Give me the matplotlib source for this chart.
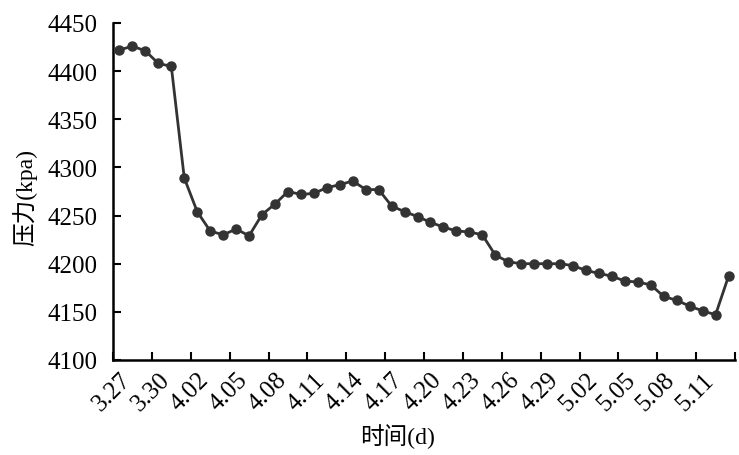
import matplotlib
matplotlib.use("Agg")
import matplotlib.pyplot as plt
from matplotlib.ticker import FixedLocator, FixedFormatter

dates = ["3.27", "3.28", "3.29", "3.30", "3.31", "4.01", "4.02", "4.03", "4.04", "4.05",
         "4.06", "4.07", "4.08", "4.09", "4.10", "4.11", "4.12", "4.13", "4.14", "4.15",
         "4.16", "4.17", "4.18", "4.19", "4.20", "4.21", "4.22", "4.23", "4.24", "4.25",
         "4.26", "4.27", "4.28", "4.29", "4.30", "5.01", "5.02", "5.03", "5.04", "5.05",
         "5.06", "5.07", "5.08", "5.09", "5.10", "5.11", "5.12", "5.13"]
pressure = [4422, 4426, 4421, 4408, 4405, 4289, 4254, 4234, 4230, 4236,
            4229, 4251, 4262, 4275, 4272, 4273, 4279, 4282, 4286, 4277,
            4277, 4260, 4254, 4249, 4243, 4238, 4234, 4233, 4230, 4209,
            4202, 4200, 4200, 4200, 4200, 4198, 4193, 4190, 4187, 4182,
            4181, 4178, 4166, 4162, 4156, 4151, 4147, 4187]
y_ticks = [4100, 4150, 4200, 4250, 4300, 4350, 4400, 4450]

FAM = ["Liberation Serif", "Noto Sans CJK SC"]
plt.rcParams["font.family"] = FAM

W, H = 739, 456
fig = plt.figure(figsize=(W / 100, H / 100), dpi=100)
ax = fig.add_axes([113 / W, 1 - 361 / H, (735 - 113) / W, (361 - 24) / H])

x = list(range(len(pressure)))
ax.plot(x, pressure, color="#333333", lw=2.0, marker="o", ms=6.5,
        markerfacecolor="#333333", markeredgecolor="#333333", zorder=3)

n = len(dates)
ax.set_xlim(-0.5, n - 0.5)
ax.set_ylim(4100, 4450)

# major ticks at category boundaries every 3, labels at category centres
bounds = [-0.5 + 3 * k for k in range(0, n // 3 + 1)]
ax.xaxis.set_major_locator(FixedLocator(bounds))
ax.xaxis.set_major_formatter(FixedFormatter([""] * len(bounds)))
lab_pos = list(range(0, n, 3))
ax.xaxis.set_minor_locator(FixedLocator(lab_pos))
ax.xaxis.set_minor_formatter(FixedFormatter([dates[i] for i in lab_pos]))
ax.tick_params(axis="x", which="major", direction="in", length=6, width=1.5)
ax.tick_params(axis="x", which="minor", length=0, pad=6, labelsize=18)
for t in ax.xaxis.get_minorticklabels():
    t.set_rotation(45)
    t.set_ha("right")
    t.set_va("top")
    t.set_rotation_mode("anchor")

ax.set_yticks(y_ticks)
ax.tick_params(axis="y", direction="in", length=6, width=1.5, pad=11, labelsize=18)

for s in ["top", "right"]:
    ax.spines[s].set_visible(False)
for s in ["left", "bottom"]:
    ax.spines[s].set_linewidth(1.8)
    ax.spines[s].set_color("black")

fig.text(25 / W, 1 - 197 / H, "压力(kpa)", rotation=90, ha="center", va="center",
         fontsize=17, family=FAM)
fig.text(398 / W, 1 - 437 / H, "时间(d)", ha="center", va="center",
         fontsize=17, family=FAM)

fig.savefig("out.png", dpi=100)
